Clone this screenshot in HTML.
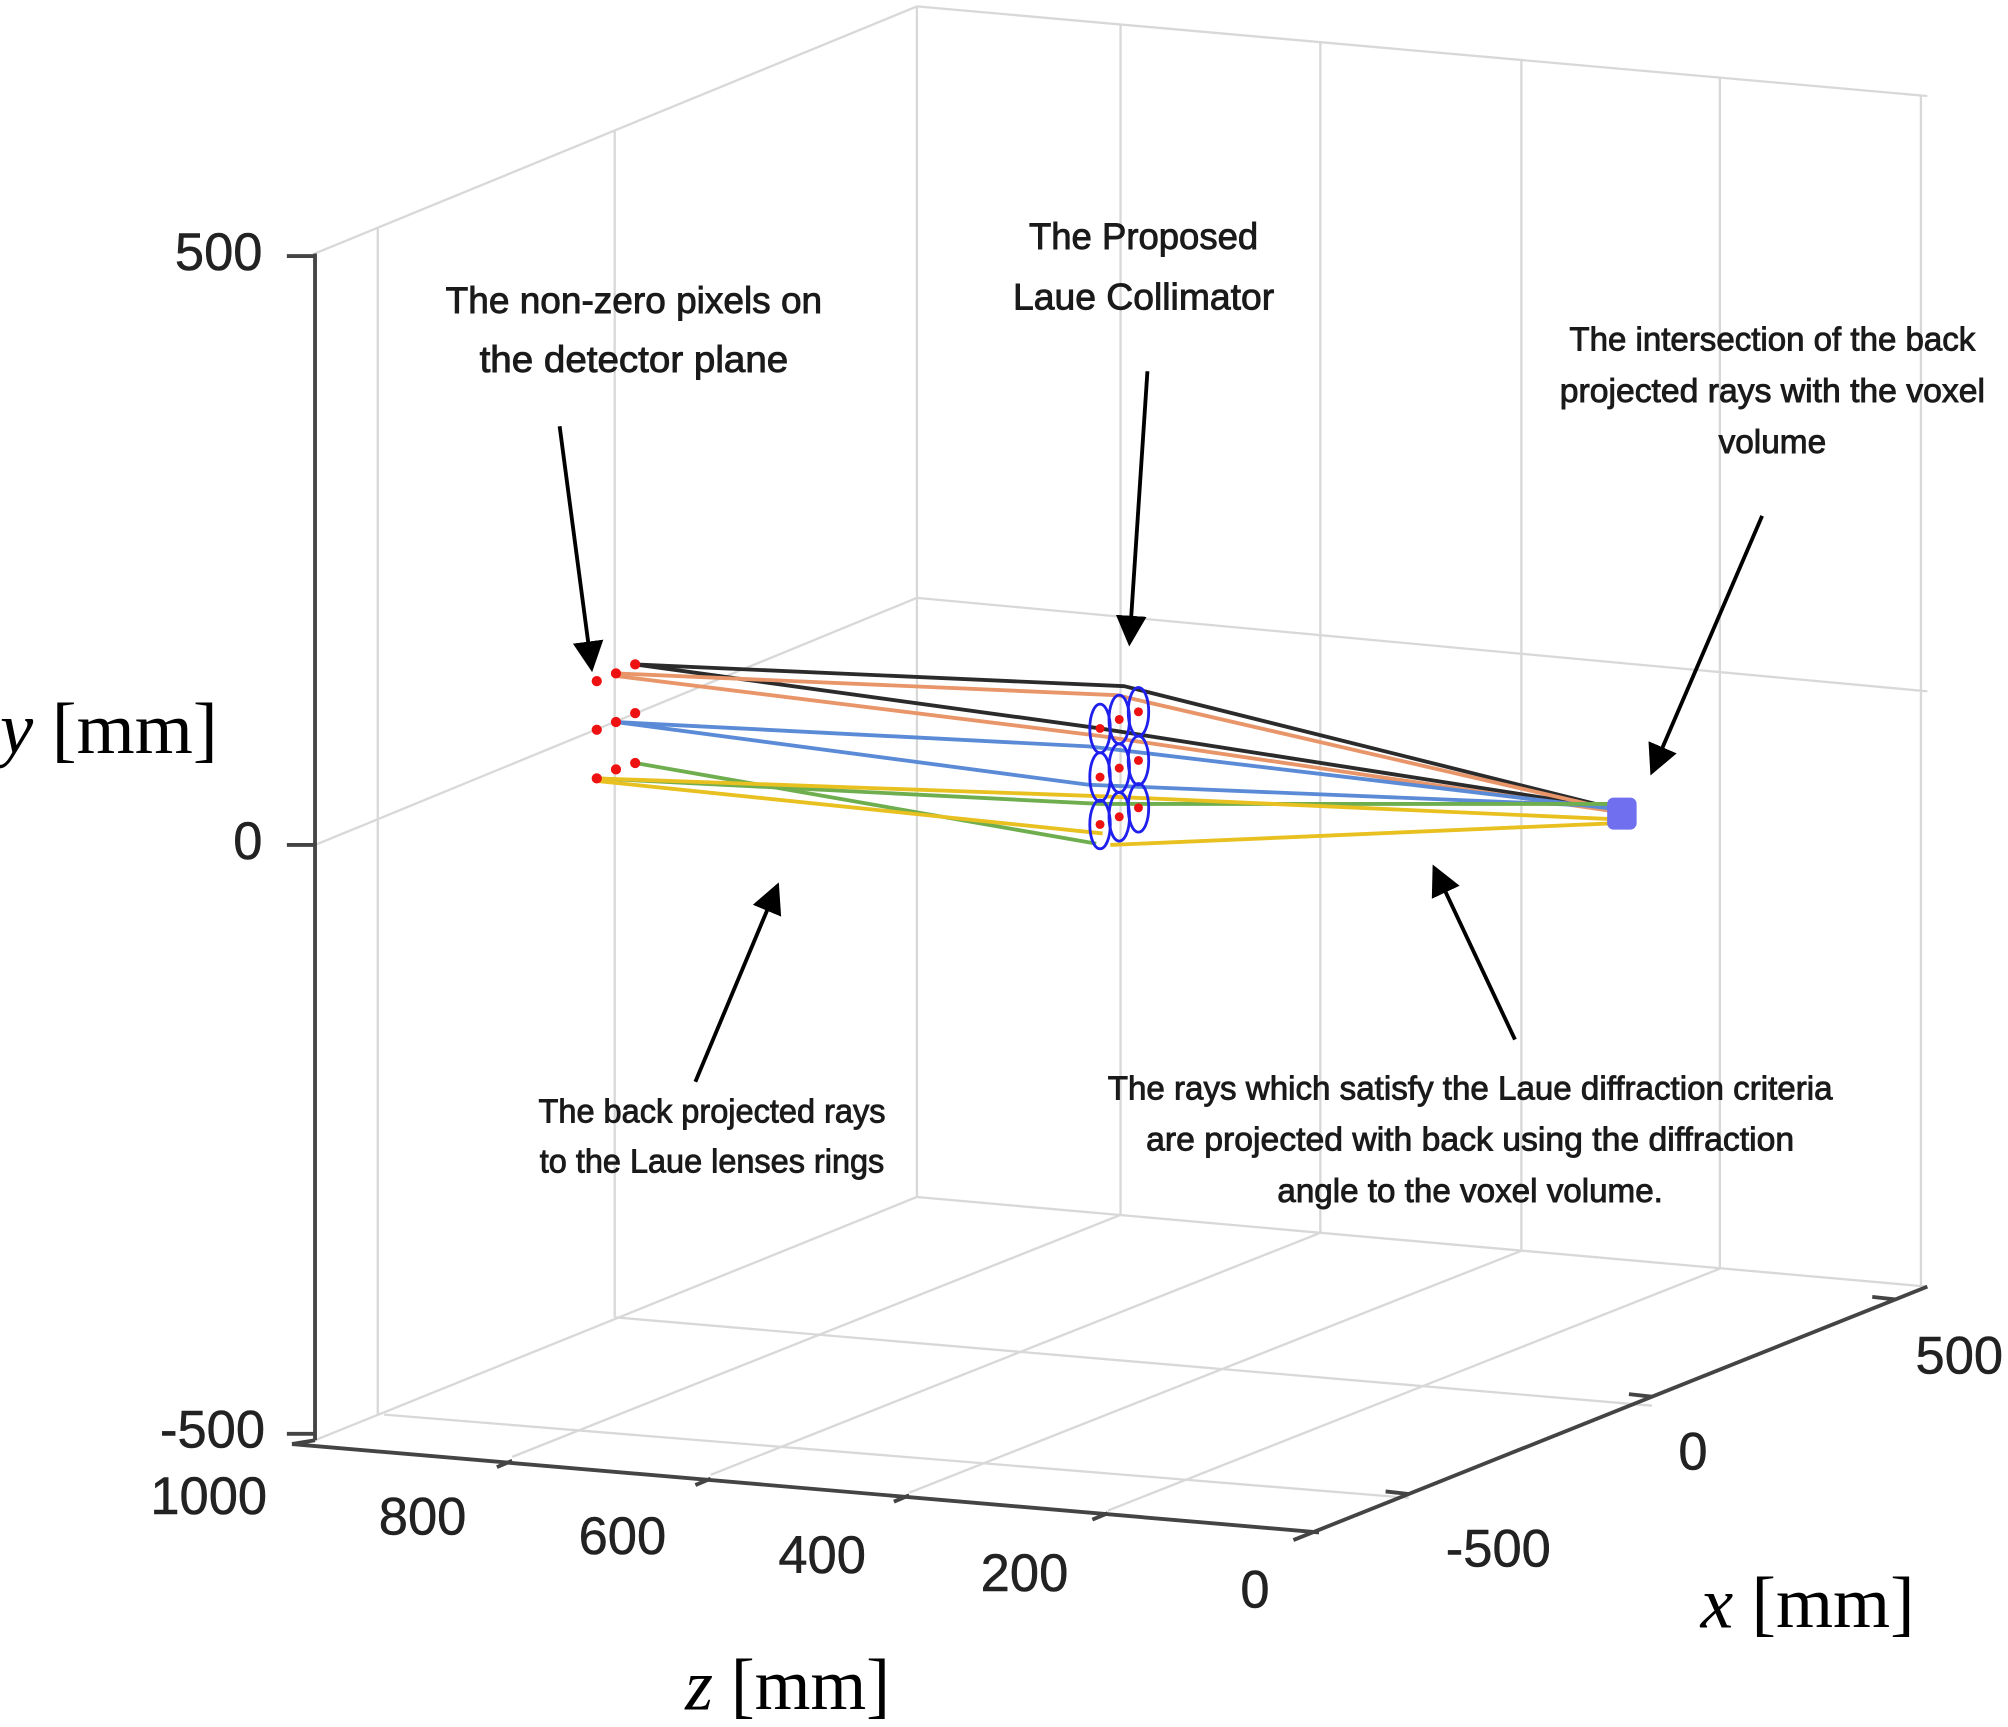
<!DOCTYPE html>
<html><head><meta charset="utf-8"><style>
html,body{margin:0;padding:0;background:#fff;}
svg{display:block;}
.ann{font-family:"Liberation Sans",sans-serif;fill:#1a1a1a;stroke:#1a1a1a;stroke-width:0.7;text-anchor:middle;dominant-baseline:middle;}
.tick{font-family:"Liberation Sans",sans-serif;fill:#222;stroke:#222;stroke-width:0.4;font-size:41px;dominant-baseline:middle;}
.lab{font-family:"Liberation Serif",serif;fill:#000;font-size:57px;dominant-baseline:middle;}
</style></head><body>
<svg width="2008" height="1727" viewBox="0 0 1568 1349" preserveAspectRatio="none" xmlns="http://www.w3.org/2000/svg">
<rect width="1568" height="1349" fill="#fff"/>
<defs><marker id="ah" markerWidth="8" markerHeight="8" refX="7" refY="4" orient="auto" markerUnits="strokeWidth"><path d="M0,0 L8,4 L0,8 z" fill="#000"/></marker></defs>
<g stroke="#d8d8d8" stroke-width="1.8" fill="none">
<line x1="246" y1="198" x2="716" y2="5"/>
<line x1="295" y1="178" x2="295" y2="1105"/>
<line x1="480" y1="102" x2="480" y2="1029"/>
<line x1="716" y1="5" x2="716" y2="935"/>
<line x1="246" y1="660" x2="716" y2="467"/>
<line x1="716" y1="5" x2="1505" y2="75"/>
<line x1="716" y1="467" x2="1505" y2="540"/>
<line x1="716" y1="935" x2="1505" y2="1005"/>
<line x1="875" y1="19" x2="875" y2="949"/>
<line x1="1031" y1="33" x2="1031" y2="963"/>
<line x1="1188" y1="47" x2="1188" y2="977"/>
<line x1="1343" y1="61" x2="1343" y2="991"/>
<line x1="1500" y1="75" x2="1500" y2="1005"/>
<line x1="246" y1="1125" x2="716" y2="935"/>
<line x1="400" y1="1138" x2="875" y2="949"/>
<line x1="555" y1="1152" x2="1031" y2="963"/>
<line x1="710" y1="1166" x2="1188" y2="977"/>
<line x1="865" y1="1180" x2="1343" y2="991"/>
<line x1="300" y1="1105" x2="1100" y2="1170"/>
<line x1="480" y1="1029" x2="1290" y2="1098"/>
</g>
<g stroke="#444" stroke-width="3" fill="none">
<line x1="246" y1="198" x2="246" y2="1125"/>
<line x1="224" y1="200" x2="246" y2="200"/>
<line x1="224" y1="660" x2="246" y2="660"/>
<line x1="224" y1="1120" x2="246" y2="1120"/>
<line x1="228" y1="1128" x2="1030" y2="1197"/>
<line x1="1010" y1="1203" x2="1505" y2="1005"/>
<line x1="228" y1="1128" x2="246" y2="1125"/>
<line x1="400" y1="1141" x2="388" y2="1146"/>
<line x1="555" y1="1155" x2="543" y2="1160"/>
<line x1="710" y1="1168" x2="698" y2="1173"/>
<line x1="865" y1="1182" x2="853" y2="1187"/>
<line x1="1100" y1="1167" x2="1082" y2="1165"/>
<line x1="1290" y1="1091" x2="1272" y2="1089"/>
<line x1="1480" y1="1015" x2="1462" y2="1013"/>
</g>
<text class="tick" x="205" y="200" text-anchor="end">500</text>
<text class="tick" x="205" y="660" text-anchor="end">0</text>
<text class="tick" x="207" y="1120" text-anchor="end">-500</text>
<text class="tick" x="163" y="1172" text-anchor="middle">1000</text>
<text class="tick" x="330" y="1188" text-anchor="middle">800</text>
<text class="tick" x="486" y="1203" text-anchor="middle">600</text>
<text class="tick" x="642" y="1218" text-anchor="middle">400</text>
<text class="tick" x="800" y="1232" text-anchor="middle">200</text>
<text class="tick" x="980" y="1245" text-anchor="middle">0</text>
<text class="tick" x="1170" y="1213" text-anchor="middle">-500</text>
<text class="tick" x="1322" y="1137" text-anchor="middle">0</text>
<text class="tick" x="1530" y="1062" text-anchor="middle">500</text>
<text class="lab" x="0" y="575" textLength="170" lengthAdjust="spacingAndGlyphs"><tspan font-style="italic">y</tspan> [mm]</text>
<text class="lab" x="535" y="1322" textLength="160" lengthAdjust="spacingAndGlyphs"><tspan font-style="italic">z</tspan> [mm]</text>
<text class="lab" x="1328" y="1258" textLength="167" lengthAdjust="spacingAndGlyphs"><tspan font-style="italic">x</tspan> [mm]</text>
<g fill="none" stroke-width="3" stroke-linejoin="round">
<polyline stroke="#2b2b2b" points="496,519 878,536 1262,632"/>
<polyline stroke="#2b2b2b" points="496,519 859,569 1262,632"/>
<polyline stroke="#e8956a" points="481,526 872,543 1262,633"/>
<polyline stroke="#e8956a" points="481,528 860,575 1262,634"/>
<polyline stroke="#5b8ad6" points="481,564 850,583 1262,632"/>
<polyline stroke="#5b8ad6" points="481,564 850,613 1262,630"/>
<polyline stroke="#6fae4f" points="496,596 856,659"/>
<polyline stroke="#6fae4f" points="466,608 860,628 1262,628"/>
<polyline stroke="#e8c020" points="466,608 861,622 1262,640"/>
<polyline stroke="#e8c020" points="466,610 861,651"/>
<polyline stroke="#e8c020" points="867,660 1262,643"/>
</g>
<g fill="none" stroke="#2020ee" stroke-width="2.2">
<ellipse cx="859" cy="569" rx="8" ry="19"/><ellipse cx="859" cy="607" rx="8" ry="19"/><ellipse cx="859" cy="644" rx="8" ry="19"/>
<ellipse cx="874" cy="562" rx="8" ry="19"/><ellipse cx="874" cy="600" rx="8" ry="19"/><ellipse cx="874" cy="638" rx="8" ry="19"/>
<ellipse cx="889" cy="556" rx="8" ry="19"/><ellipse cx="889" cy="594" rx="8" ry="19"/><ellipse cx="889" cy="631" rx="8" ry="19"/>
</g>
<g fill="#ee1111">
<circle cx="859" cy="569" r="3.5"/><circle cx="859" cy="607" r="3.5"/><circle cx="859" cy="644" r="3.5"/>
<circle cx="874" cy="562" r="3.5"/><circle cx="874" cy="600" r="3.5"/><circle cx="874" cy="638" r="3.5"/>
<circle cx="889" cy="556" r="3.5"/><circle cx="889" cy="594" r="3.5"/><circle cx="889" cy="631" r="3.5"/>
<circle cx="466" cy="532" r="4"/><circle cx="481" cy="526" r="4"/><circle cx="496" cy="519" r="4"/>
<circle cx="466" cy="570" r="4"/><circle cx="481" cy="564" r="4"/><circle cx="496" cy="557" r="4"/>
<circle cx="466" cy="608" r="4"/><circle cx="481" cy="601" r="4"/><circle cx="496" cy="596" r="4"/>
</g>
<rect x="1255" y="623" width="23" height="25" rx="5" fill="#6f6ff0"/>
<g stroke="#000" stroke-width="3" fill="none" marker-end="url(#ah)">
<line x1="437" y1="333" x2="462" y2="522"/>
<line x1="896" y1="290" x2="882" y2="502"/>
<line x1="1376" y1="403" x2="1290" y2="603"/>
<line x1="543" y1="845" x2="607" y2="692"/>
<line x1="1183" y1="812" x2="1120" y2="678"/>
</g>
<g class="ann" font-size="29">
<text x="495" y="237" textLength="294" lengthAdjust="spacingAndGlyphs">The non-zero pixels on</text>
<text x="495" y="283" textLength="241" lengthAdjust="spacingAndGlyphs">the detector plane</text>
<text x="893" y="187" textLength="179" lengthAdjust="spacingAndGlyphs">The Proposed</text>
<text x="893" y="234" textLength="204" lengthAdjust="spacingAndGlyphs">Laue Collimator</text>
</g>
<g class="ann" font-size="26">
<text x="1384" y="267" textLength="317" lengthAdjust="spacingAndGlyphs">The intersection of the back</text>
<text x="1384" y="307" textLength="332" lengthAdjust="spacingAndGlyphs">projected rays with the voxel</text>
<text x="1384" y="347" textLength="84" lengthAdjust="spacingAndGlyphs">volume</text>
<text x="556" y="870" textLength="271" lengthAdjust="spacingAndGlyphs">The back projected rays</text>
<text x="556" y="909" textLength="269" lengthAdjust="spacingAndGlyphs">to the Laue lenses rings</text>
<text x="1148" y="852" textLength="566" lengthAdjust="spacingAndGlyphs">The rays which satisfy the Laue diffraction criteria</text>
<text x="1148" y="892" textLength="506" lengthAdjust="spacingAndGlyphs">are projected with back using the diffraction</text>
<text x="1148" y="932" textLength="301" lengthAdjust="spacingAndGlyphs">angle to the voxel volume.</text>
</g>
</svg>
</body></html>
